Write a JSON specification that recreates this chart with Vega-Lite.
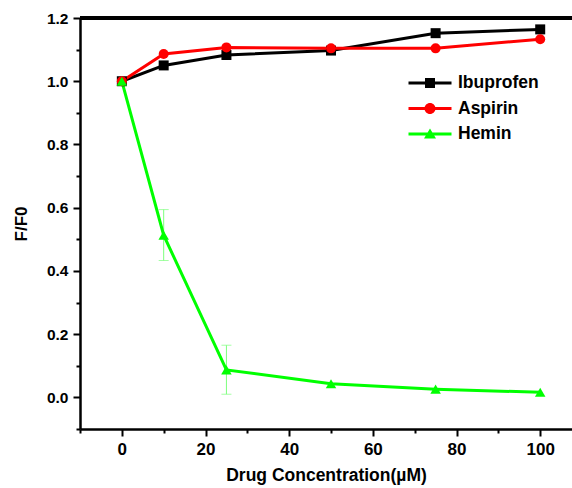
{
  "$schema": "https://vega.github.io/schema/vega-lite/v6.json",
  "autosize": {"type": "none"},
  "width": 492,
  "height": 411,
  "padding": {"left": 80, "top": 18, "right": 0, "bottom": 59},
  "background": "white",
  "config": {
    "view": {"stroke": null},
    "font": "Liberation Sans",
    "axis": {
      "labelFont": "Liberation Sans",
      "labelFontWeight": "bold",
      "labelColor": "black",
      "titleFont": "Liberation Sans",
      "titleFontWeight": "bold",
      "titleColor": "black",
      "domainColor": "black",
      "domainWidth": 2.5,
      "tickColor": "black",
      "tickWidth": 2,
      "grid": false
    }
  },
  "data": {
    "values": [
      {"conc": 0, "drug": "Ibuprofen", "ff0": 1.0},
      {"conc": 10, "drug": "Ibuprofen", "ff0": 1.05},
      {"conc": 25, "drug": "Ibuprofen", "ff0": 1.083},
      {"conc": 50, "drug": "Ibuprofen", "ff0": 1.097},
      {"conc": 75, "drug": "Ibuprofen", "ff0": 1.152},
      {"conc": 100, "drug": "Ibuprofen", "ff0": 1.164},
      {"conc": 0, "drug": "Aspirin", "ff0": 1.0},
      {"conc": 10, "drug": "Aspirin", "ff0": 1.086},
      {"conc": 25, "drug": "Aspirin", "ff0": 1.107},
      {"conc": 50, "drug": "Aspirin", "ff0": 1.104},
      {"conc": 75, "drug": "Aspirin", "ff0": 1.104},
      {"conc": 100, "drug": "Aspirin", "ff0": 1.133},
      {"conc": 0, "drug": "Hemin", "ff0": 1.0},
      {"conc": 10, "drug": "Hemin", "ff0": 0.513, "lo": 0.433, "hi": 0.594},
      {"conc": 25, "drug": "Hemin", "ff0": 0.087, "lo": 0.01, "hi": 0.165},
      {"conc": 50, "drug": "Hemin", "ff0": 0.043},
      {"conc": 75, "drug": "Hemin", "ff0": 0.026},
      {"conc": 100, "drug": "Hemin", "ff0": 0.016}
    ]
  },
  "encoding": {
    "x": {
      "field": "conc",
      "type": "quantitative",
      "scale": {"domain": [-10, 107.6], "nice": false, "zero": false},
      "axis": {
        "title": "Drug Concentration(µM)",
        "titleFontSize": 17.5,
        "titlePadding": 9,
        "labelFontSize": 17,
        "values": [-10, 0, 10, 20, 30, 40, 50, 60, 70, 80, 90, 100],
        "labelExpr": "datum.value % 20 === 0 ? datum.label : ''",
        "labelPadding": 5,
        "tickSize": {"condition": {"test": "datum.value % 20 === 0", "value": 7}, "value": 4}
      }
    },
    "y": {
      "field": "ff0",
      "type": "quantitative",
      "scale": {"domain": [-0.1, 1.2], "nice": false, "zero": false},
      "axis": {
        "title": "F/F0",
        "titleFontSize": 17,
        "titlePadding": 16,
        "labelFontSize": 15.5,
        "values": [-0.1, 0, 0.1, 0.2, 0.3, 0.4, 0.5, 0.6, 0.7, 0.8, 0.9, 1.0, 1.1, 1.2],
        "labelExpr": "abs(round(datum.value * 10) % 2) === 0 ? format(datum.value, '.1f') : ''",
        "labelPadding": 5,
        "tickSize": {"condition": {"test": "abs(round(datum.value * 10) % 2) === 0", "value": 7}, "value": 4}
      }
    }
  },
  "layer": [
    {
      "mark": {"type": "rule", "color": "black", "strokeWidth": 2.5},
      "encoding": {"y": {"datum": 1.2}, "x": null}
    },
    {
      "transform": [{"filter": "isValid(datum.lo)"}],
      "mark": {"type": "errorbar", "color": "#7dff7d", "thickness": 1, "ticks": {"size": 10, "thickness": 1, "color": "#7dff7d"}},
      "encoding": {
        "y": {"field": "lo", "type": "quantitative"},
        "y2": {"field": "hi"}
      }
    },
    {
      "mark": {"type": "line", "strokeWidth": 3},
      "encoding": {
        "color": {
          "field": "drug",
          "type": "nominal",
          "scale": {"domain": ["Ibuprofen", "Aspirin", "Hemin"], "range": ["#000000", "#ff0000", "#00ff00"]},
          "legend": {
            "title": null,
            "orient": "none",
            "legendX": 340,
            "legendY": 55,
            "padding": 0,
            "symbolSize": 400,
            "symbolStrokeWidth": 0,
            "labelFont": "Liberation Sans",
            "labelFontWeight": "bold",
            "labelFontSize": 17.5,
            "labelColor": "black",
            "labelOffset": 18,
            "rowPadding": 6.5,
            "encode": {
              "symbols": {
                "update": {
                  "shape": {"signal": "datum.value === 'Ibuprofen' ? 'M-2.15,-0.15H2.15V0.15H-2.15Z M-0.5,-0.5H0.5V0.5H-0.5Z' : datum.value === 'Aspirin' ? 'M-2.15,-0.15H2.15V0.15H-2.15Z M-0.55,0A0.55,0.55 0 1,1 0.55,0A0.55,0.55 0 1,1 -0.55,0Z' : 'M-2.15,-0.15H2.15V0.15H-2.15Z M0,-0.55L0.6,0.45L-0.6,0.45Z'"},
                  "fill": {"scale": "color", "field": "value"},
                  "stroke": {"value": "transparent"},
                  "strokeWidth": {"value": 0}
                }
              }
            }
          }
        }
      }
    },
    {
      "transform": [{"filter": "datum.drug === 'Ibuprofen'"}],
      "mark": {"type": "point", "shape": "square", "filled": true, "opacity": 1, "size": 100},
      "encoding": {"color": {"field": "drug", "type": "nominal"}}
    },
    {
      "transform": [{"filter": "datum.drug === 'Aspirin'"}],
      "mark": {"type": "point", "shape": "circle", "filled": true, "opacity": 1, "size": 100},
      "encoding": {"color": {"field": "drug", "type": "nominal"}}
    },
    {
      "transform": [{"filter": "datum.drug === 'Hemin'"}],
      "mark": {"type": "point", "shape": "triangle-up", "filled": true, "opacity": 1, "size": 110},
      "encoding": {"color": {"field": "drug", "type": "nominal"}}
    }
  ]
}
